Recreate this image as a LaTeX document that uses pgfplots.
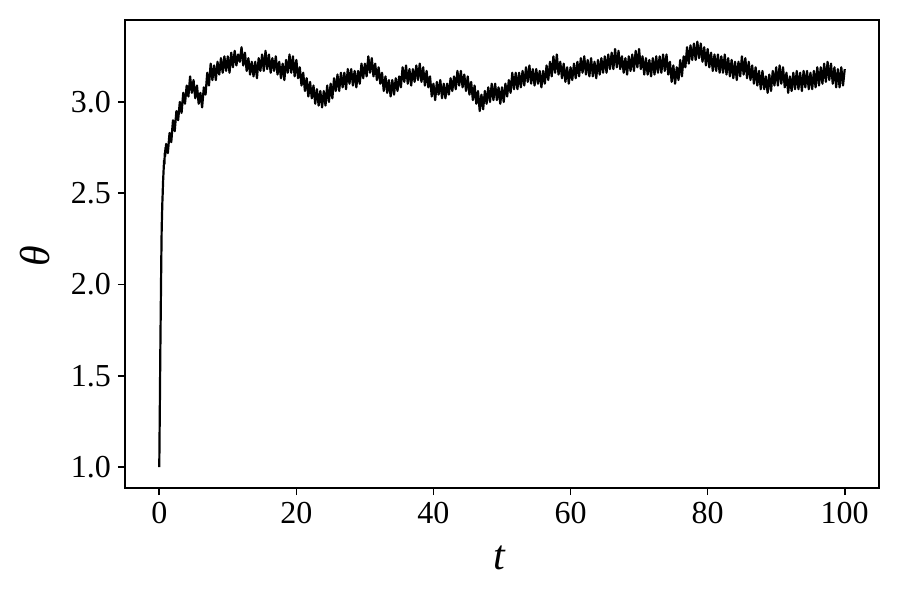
\documentclass[border=0pt]{standalone}
\usepackage{fontspec}
\setmainfont{Liberation Serif}
\usepackage{pgfplots}
\pgfplotsset{compat=1.18}
\begin{document}
\begin{tikzpicture}
\begin{axis}[
  scale only axis, width=377pt, height=234pt,
  xmin=-5, xmax=105, ymin=0.885, ymax=3.449,
  xtick={0,20,40,60,80,100}, ytick={1.0,1.5,2.0,2.5,3.0},
  /pgf/number format/assume math mode=true,
  y tick label style={/pgf/number format/.cd, fixed, fixed zerofill, precision=1},
  tick label style={font=\fontsize{16}{19}\selectfont},
  tick align=outside, tick pos=left, major tick length=3.5pt,
  tick style={line width=0.8pt, black},
  axis line style={line width=0.9pt},
  xlabel={\textit{t}}, ylabel={\textit{θ}},
  label style={font=\fontsize{21}{24}\selectfont},
  xlabel style={at={(axis description cs:0.497,-0.15)}, anchor=center},
  ylabel style={at={(axis description cs:-0.119,0.496)}, anchor=center},
]
\addplot[black, line width=1.1pt, line join=round] table {
0 1.00
0.05 1.20
0.1 1.40
0.15 1.62
0.2 1.80
0.25 1.98
0.3 2.15
0.35 2.30
0.4 2.38
0.45 2.45
0.5 2.50
0.55 2.56
0.6 2.60
0.65 2.64
0.7 2.68
0.75 2.66
0.8 2.72
0.85 2.70
0.9 2.75
0.95 2.72
1.0 2.77
1.25 2.72
1.5 2.83
1.75 2.78
2.0 2.90
2.25 2.84
2.5 2.95
2.75 2.90
3.0 3.00
3.25 2.94
3.5 3.05
3.75 2.99
4.0 3.09
4.25 3.03
4.5 3.14
4.75 3.05
5.0 3.12
5.25 3.02
5.5 3.09
5.75 2.99
6.0 3.05
6.25 2.97
6.5 3.08
6.75 3.04
7.0 3.16
7.25 3.09
7.5 3.21
7.75 3.12
8.0 3.20
8.25 3.12
8.5 3.22
8.75 3.15
9.0 3.24
9.25 3.16
9.5 3.25
9.75 3.17
10.0 3.25
10.25 3.16
10.5 3.27
10.75 3.19
11.0 3.28
11.25 3.20
11.5 3.26
11.75 3.22
12.0 3.30
12.25 3.20
12.5 3.27
12.75 3.17
13.0 3.24
13.25 3.15
13.5 3.22
13.75 3.14
14.0 3.22
14.25 3.13
14.5 3.24
14.75 3.17
15.0 3.26
15.25 3.17
15.5 3.28
15.75 3.18
16.0 3.26
16.25 3.16
16.5 3.24
16.75 3.17
17.0 3.25
17.25 3.15
17.5 3.22
17.75 3.13
18.0 3.21
18.25 3.12
18.5 3.23
18.75 3.16
19.0 3.26
19.25 3.16
19.5 3.25
19.75 3.14
20.0 3.23
20.25 3.13
20.5 3.19
20.75 3.09
21.0 3.16
21.25 3.06
21.5 3.13
21.75 3.03
22.0 3.11
22.25 3.02
22.5 3.09
22.75 2.99
23.0 3.07
23.25 2.98
23.5 3.06
23.75 2.97
24.0 3.06
24.25 2.98
24.5 3.09
24.75 3.00
25.0 3.10
25.25 3.02
25.5 3.13
25.75 3.06
26.0 3.15
26.25 3.06
26.5 3.16
26.75 3.08
27.0 3.16
27.25 3.07
27.5 3.18
27.75 3.10
28.0 3.18
28.25 3.09
28.5 3.17
28.75 3.08
29.0 3.17
29.25 3.10
29.5 3.21
29.75 3.13
30.0 3.21
30.25 3.14
30.5 3.25
30.75 3.16
31.0 3.24
31.25 3.14
31.5 3.21
31.75 3.12
32.0 3.19
32.25 3.10
32.5 3.16
32.75 3.06
33.0 3.14
33.25 3.05
33.5 3.12
33.75 3.03
34.0 3.12
34.25 3.04
34.5 3.13
34.75 3.06
35.0 3.14
35.25 3.08
35.5 3.19
35.75 3.11
36.0 3.20
36.25 3.10
36.5 3.18
36.75 3.09
37.0 3.18
37.25 3.11
37.5 3.20
37.75 3.12
38.0 3.21
38.25 3.11
38.5 3.19
38.75 3.09
39.0 3.17
39.25 3.08
39.5 3.14
39.75 3.03
40.0 3.10
40.25 3.01
40.5 3.11
40.75 3.04
41.0 3.12
41.25 3.02
41.5 3.10
41.75 3.02
42.0 3.10
42.25 3.04
42.5 3.13
42.75 3.06
43.0 3.14
43.25 3.07
43.5 3.17
43.75 3.09
44.0 3.17
44.25 3.08
44.5 3.15
44.75 3.06
45.0 3.14
45.25 3.04
45.5 3.11
45.75 3.01
46.0 3.09
46.25 2.99
46.5 3.06
46.75 2.95
47.0 3.04
47.25 2.96
47.5 3.06
47.75 2.99
48.0 3.08
48.25 3.00
48.5 3.10
48.75 3.01
49.0 3.10
49.25 3.01
49.5 3.08
49.75 2.99
50.0 3.08
50.25 3.00
50.5 3.10
50.75 3.03
51.0 3.12
51.25 3.05
51.5 3.16
51.75 3.07
52.0 3.16
52.25 3.07
52.5 3.16
52.75 3.08
53.0 3.17
53.25 3.09
53.5 3.19
53.75 3.11
54.0 3.20
54.25 3.10
54.5 3.18
54.75 3.09
55.0 3.18
55.25 3.10
55.5 3.17
55.75 3.08
56.0 3.17
56.25 3.10
56.5 3.20
56.75 3.12
57.0 3.22
57.25 3.14
57.5 3.25
57.75 3.16
58.0 3.26
58.25 3.15
58.5 3.22
58.75 3.13
59.0 3.21
59.25 3.11
59.5 3.19
59.75 3.10
60.0 3.19
60.25 3.12
60.5 3.21
60.75 3.13
61.0 3.22
61.25 3.14
61.5 3.24
61.75 3.16
62.0 3.25
62.25 3.15
62.5 3.23
62.75 3.14
63.0 3.24
63.25 3.14
63.5 3.22
63.75 3.13
64.0 3.23
64.25 3.15
64.5 3.24
64.75 3.16
65.0 3.25
65.25 3.16
65.5 3.26
65.75 3.18
66.0 3.27
66.25 3.18
66.5 3.29
66.75 3.19
67.0 3.28
67.25 3.18
67.5 3.25
67.75 3.16
68.0 3.24
68.25 3.15
68.5 3.25
68.75 3.17
69.0 3.26
69.25 3.17
69.5 3.28
69.75 3.19
70.0 3.29
70.25 3.18
70.5 3.25
70.75 3.15
71.0 3.24
71.25 3.15
71.5 3.23
71.75 3.14
72.0 3.24
72.25 3.15
72.5 3.25
72.75 3.16
73.0 3.25
73.25 3.16
73.5 3.26
73.75 3.17
74.0 3.26
74.25 3.15
74.5 3.22
74.75 3.11
75.0 3.20
75.25 3.10
75.5 3.19
75.75 3.12
76.0 3.23
76.25 3.14
76.5 3.25
76.75 3.19
77.0 3.30
77.25 3.21
77.5 3.31
77.75 3.23
78.0 3.32
78.25 3.23
78.5 3.33
78.75 3.24
79.0 3.32
79.25 3.22
79.5 3.30
79.75 3.20
80.0 3.29
80.25 3.19
80.5 3.27
80.75 3.17
81.0 3.26
81.25 3.17
81.5 3.26
81.75 3.16
82.0 3.25
82.25 3.16
82.5 3.26
82.75 3.15
83.0 3.24
83.25 3.14
83.5 3.23
83.75 3.13
84.0 3.22
84.25 3.12
84.5 3.22
84.75 3.14
85.0 3.25
85.25 3.15
85.5 3.24
85.75 3.13
86.0 3.22
86.25 3.12
86.5 3.20
86.75 3.10
87.0 3.19
87.25 3.09
87.5 3.17
87.75 3.07
88.0 3.17
88.25 3.07
88.5 3.14
88.75 3.05
89.0 3.15
89.25 3.06
89.5 3.17
89.75 3.09
90.0 3.19
90.25 3.09
90.5 3.20
90.75 3.10
91.0 3.19
91.25 3.08
91.5 3.16
91.75 3.05
92.0 3.14
92.25 3.06
92.5 3.16
92.75 3.07
93.0 3.17
93.25 3.07
93.5 3.16
93.75 3.06
94.0 3.17
94.25 3.08
94.5 3.17
94.75 3.07
95.0 3.16
95.25 3.07
95.5 3.17
95.75 3.08
96.0 3.19
96.25 3.09
96.5 3.19
96.75 3.10
97.0 3.21
97.25 3.11
97.5 3.22
97.75 3.12
98.0 3.21
98.25 3.10
98.5 3.19
98.75 3.08
99.0 3.18
99.25 3.08
99.5 3.19
99.75 3.09
100.0 3.18
};
\coordinate (ll) at (rel axis cs:0,0);
\coordinate (ur) at (rel axis cs:1,1);
\end{axis}
\pgfresetboundingbox
\useasboundingbox ([shift={(-62.5pt,-56pt)}]ll) rectangle ([shift={(10.5pt,10pt)}]ur);
\end{tikzpicture}
\end{document}
